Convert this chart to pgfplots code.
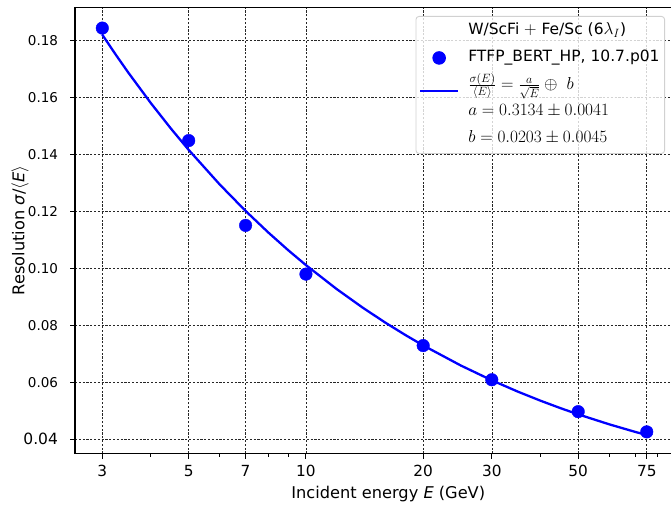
\documentclass[border=0pt]{standalone}
\usepackage{fontspec}
\setmainfont{DejaVu Sans}
\usepackage{pgfplots}
\usepackage{pgfplotstable}
\pgfplotsset{compat=1.18}

% Measured resolution, FTFP_BERT_HP
\pgfplotstableread{
E     res
3     0.1844
5     0.1449
7     0.1151
10    0.0980
20    0.0729
30    0.0609
50    0.0497
75    0.0426
}\resdata

% Fitted curve sigma/E = a/sqrt(E) (+) b, tabulated
\pgfplotstableread{
E     fit
3     0.18208
3.25  0.17503
3.5   0.16875
4     0.15801
4.5   0.14913
5     0.14162
6     0.12955
7     0.12018
8     0.11265
9     0.10642
10    0.10116
12    0.09272
14    0.08618
16    0.08094
18    0.07661
20    0.07296
25    0.06588
30    0.06071
35    0.05673
40    0.05355
45    0.05094
50    0.04875
60    0.04527
70    0.04260
75    0.04149
}\fitdata

\begin{document}
\begin{tikzpicture}
\useasboundingbox (0,0) rectangle (671pt,504pt);
\begin{axis}[
  at={(75pt,50.5pt)}, anchor=south west,
  scale only axis, width=599pt, height=446.2pt,
  xmode=log, xmin=2.553, xmax=88.1,
  ymin=0.0350, ymax=0.1917,
  xtick={3,5,7,10,20,30,50,75},
  xticklabels={3,5,7,10,20,30,50,75},
  minor xtick={4,6,8,9,40,60,70,80},
  ytick={0.04,0.06,0.08,0.10,0.12,0.14,0.16,0.18},
  yticklabels={{\fontsize{15.5}{17}\selectfont 0.04\hspace{-7pt}},0.06,0.08,0.10,0.12,0.14,0.16,0.18},
  tick pos=left, tick align=outside,
  major tick length=5pt, minor tick length=3pt,
  every tick/.style={black, line width=1pt},
  axis line style={black, line width=1.1pt},
  grid=major,
  major grid style={black!85, line width=0.55pt, dash pattern=on 2.2pt off 1.6pt},
  xticklabel style={font=\fontsize{15.3}{17}\selectfont, yshift=-3.5pt},
  yticklabel style={font=\fontsize{13.5}{15}\selectfont, xshift=-8.5pt},
  xlabel={Incident energy \textit{E} (GeV)},
  ylabel={Resolution \textit{σ}/$\langle$\textit{E}$\rangle$},
  label style={font=\fontsize{16.2}{19}\selectfont},
  xlabel style={at={(axis description cs:0.523,-0.0908)}, anchor=center},
  ylabel style={at={(axis description cs:-0.0918,0.5)}, anchor=center},
  legend style={
    at={(axis description cs:0.985,0.9805)}, anchor=north east,
    draw=black!18, line width=0.9pt, rounded corners=3pt,
    fill=white, fill opacity=0.8, text opacity=1,
    font=\fontsize{15.5}{17}\selectfont,
    nodes={text height=11pt, text depth=4pt, inner ysep=3pt, inner xsep=2pt, fill opacity=1},
    row sep=6pt, column sep=7pt, inner xsep=3pt, inner ysep=4pt,
  },
  legend cell align=left,
]
\addlegendimage{empty legend}
\addlegendentry{W/ScFi {\fontsize{16.5}{18}\selectfont$+$} Fe/Sc (6{\fontsize{16.5}{18}\selectfont$\lambda_I$})}

\addplot[blue, line width=2.3pt, forget plot] table[x=E, y=fit]{\fitdata};

\addplot[only marks, mark=*, mark size=6.3pt, color=blue,
  mark options={draw=blue, fill=blue},
  legend image code/.code={\fill[blue, fill opacity=1] (19pt,0pt) circle (6.3pt);}]
  table[x=E, y=res]{\resdata};
\addlegendentry{FTFP\_BERT\_HP, 10.7.p01}

\addlegendimage{blue, line width=2.3pt,
  legend image code/.code={\draw[blue, line width=2.3pt] (0pt,-6pt) -- (38pt,-6pt);}}
\addlegendentry{\raisebox{-1.5pt}{\fontsize{16.5}{18}\selectfont$\frac{\sigma(E)}{\langle E\rangle} = \frac{a}{\sqrt{E}} \oplus\ b$}}

\addlegendimage{empty legend}
\addlegendentry{{\fontsize{16.5}{18}\selectfont$a = 0.3134 \pm 0.0041$}}
\addlegendimage{empty legend}
\addlegendentry{{\fontsize{16.5}{18}\selectfont$b = 0.0203 \pm 0.0045$}}
\end{axis}
\end{tikzpicture}
\end{document}
